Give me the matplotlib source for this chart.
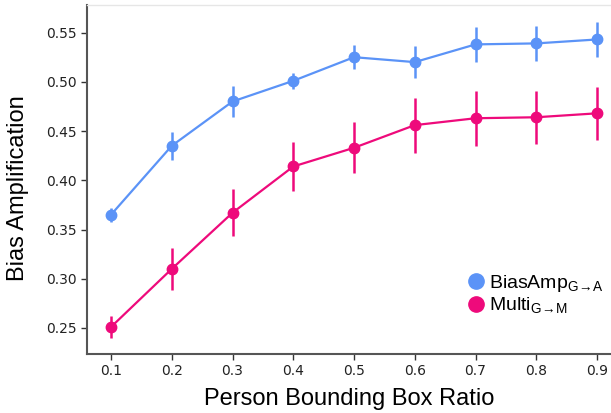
import matplotlib
matplotlib.use("Agg")
import matplotlib.pyplot as plt
from matplotlib.lines import Line2D

plt.rcParams['font.family'] = ['Liberation Sans', 'DejaVu Sans']
plt.rcParams['mathtext.fontset'] = 'custom'
plt.rcParams['mathtext.rm'] = 'Liberation Sans'
plt.rcParams['mathtext.it'] = 'Liberation Sans:italic'

ratio = [0.1, 0.2, 0.3, 0.4, 0.5, 0.6, 0.7, 0.8, 0.9]
biasamp = [0.365, 0.435, 0.480, 0.501, 0.525, 0.520, 0.538, 0.539, 0.543]
biasamp_err = [0.007, 0.014, 0.016, 0.008, 0.012, 0.016, 0.018, 0.018, 0.018]
multi = [0.251, 0.310, 0.367, 0.414, 0.433, 0.456, 0.463, 0.464, 0.468]
multi_err = [0.011, 0.021, 0.024, 0.025, 0.026, 0.028, 0.028, 0.027, 0.027]

blue = '#5b93f7'
pink = '#ee0a7b'

fig = plt.figure(figsize=(6.11, 4.13), dpi=100)
ax = fig.add_axes([0.1424, 0.1429, 0.8576, 0.8450])

for y, e, c in [(biasamp, biasamp_err, blue), (multi, multi_err, pink)]:
    ax.errorbar(ratio, y, yerr=e, color=c, lw=1.6, elinewidth=1.8,
                marker='o', markersize=7.5, capsize=0)

ax.set_xlim(0.0605, 0.923)
ax.set_ylim(0.2236, 0.578)
ax.set_xticks(ratio)
ax.set_xticklabels([f'{r:.1f}' for r in ratio])
ax.set_yticks([0.25, 0.30, 0.35, 0.40, 0.45, 0.50, 0.55])
ax.set_yticklabels(['0.25', '0.30', '0.35', '0.40', '0.45', '0.50', '0.55'])
for lab in ax.get_xticklabels() + ax.get_yticklabels():
    lab.set_family('DejaVu Sans')
    lab.set_fontsize(10)
    lab.set_color('#222222')

ax.spines['right'].set_visible(False)
ax.spines['top'].set_color('#e6e6e6')
ax.spines['top'].set_linewidth(1)
for s in ['left', 'bottom']:
    ax.spines[s].set_color('#555555')
    ax.spines[s].set_linewidth(1.5)
ax.tick_params(length=4, width=1, color='#333333')

ax.set_xlabel('Person Bounding Box Ratio', fontsize=17, labelpad=7)
ax.set_ylabel('Bias Amplification', fontsize=17)
ax.yaxis.set_label_coords(-0.11, 0.476)

handles = [Line2D([], [], ls='', marker='o', markersize=11, color=blue),
           Line2D([], [], ls='', marker='o', markersize=11, color=pink)]
labels = [r'BiasAmp$_{\mathrm{G\!\rightarrow\!A}}$', r'Multi$_{\mathrm{G\!\rightarrow\!M}}$']
ax.legend(handles, labels, frameon=False, fontsize=14, loc='lower right',
          bbox_to_anchor=(1.0, 0.088), handletextpad=0.1, labelspacing=0.1,
          borderaxespad=0, handlelength=1.1)

fig.savefig('out.png', dpi=100)
